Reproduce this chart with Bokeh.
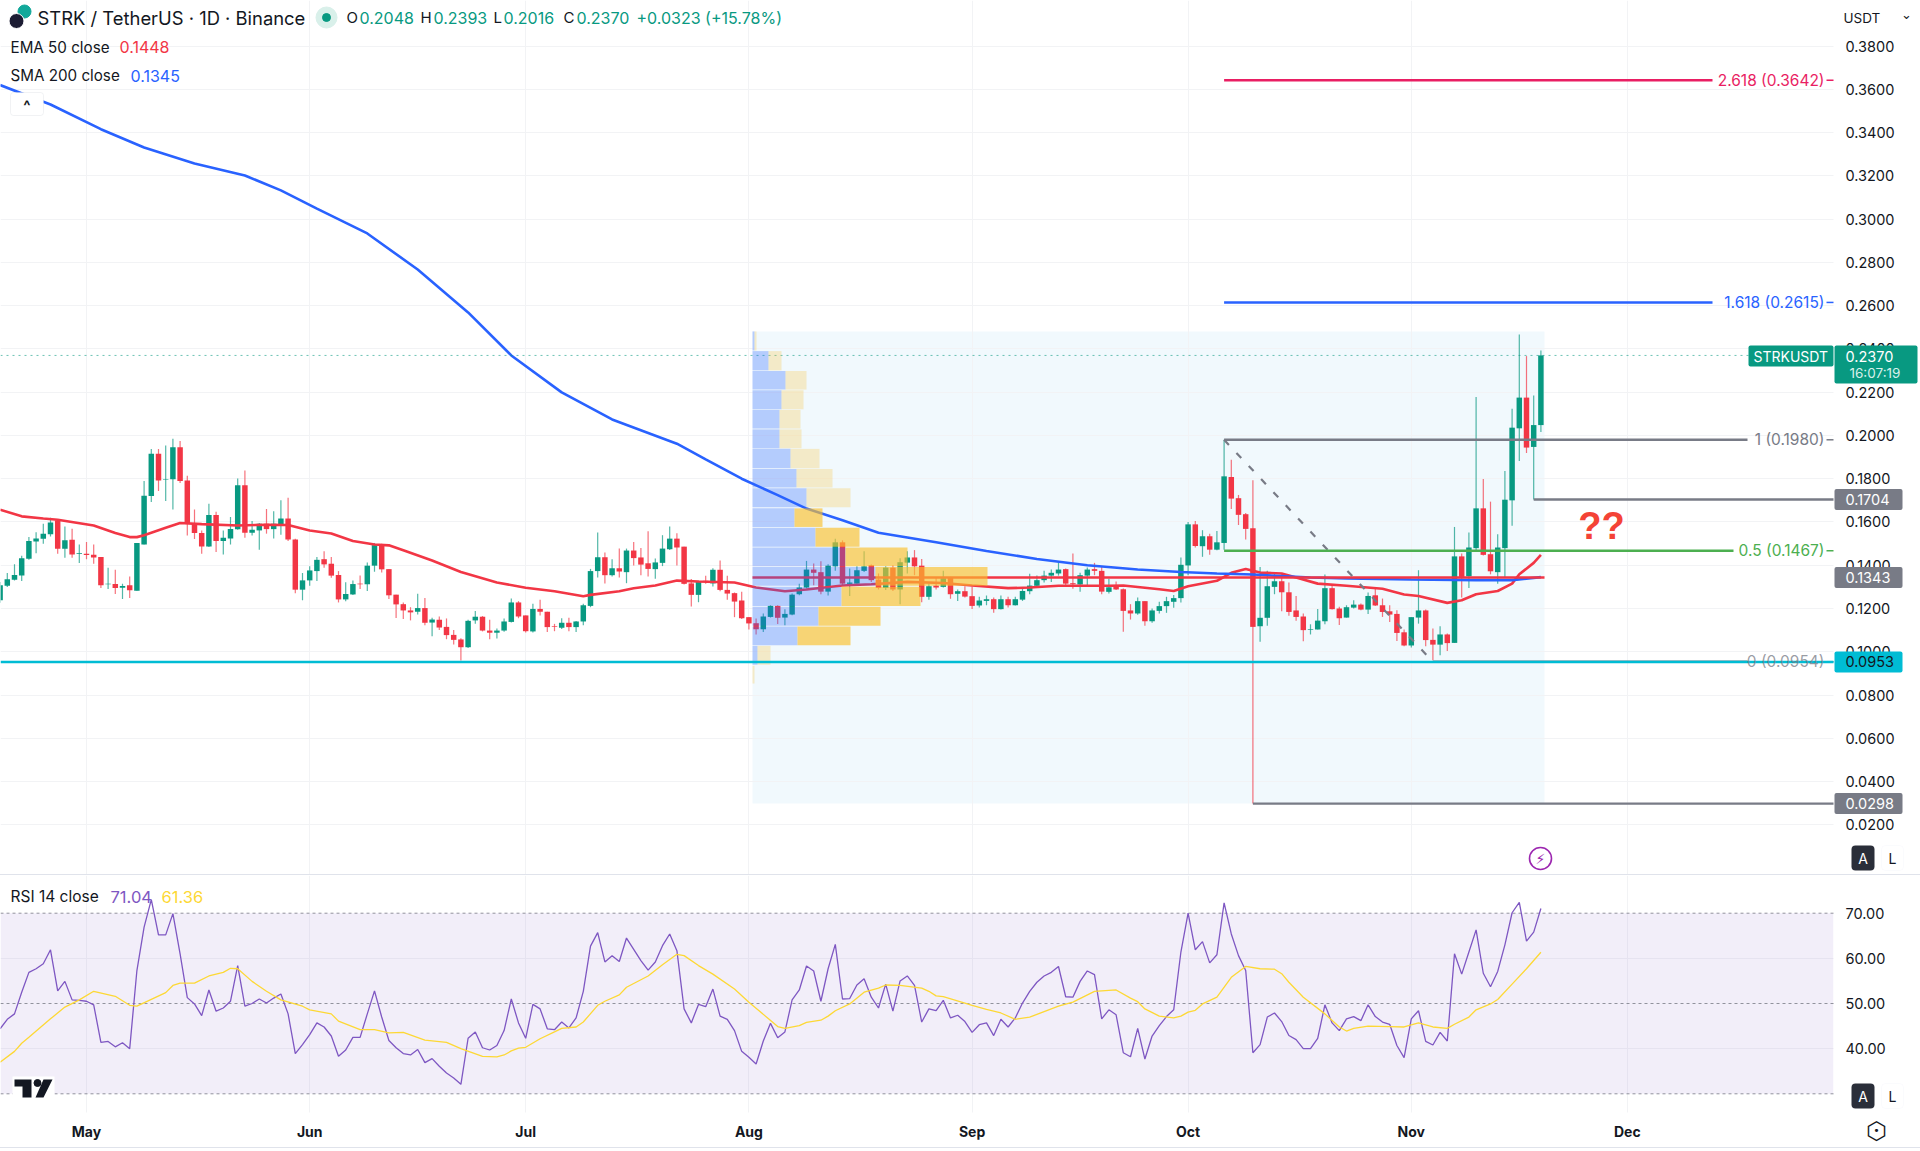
from bokeh.plotting import figure
from bokeh.layouts import column
from bokeh.models import Range1d, FixedTicker, Label, BoxAnnotation, NumeralTickFormatter
from bokeh.embed import file_html
from bokeh.resources import INLINE

# ---- data (x = days since 19 Apr) ----
opens = [.1238,.1305,.1333,.1353,.1430,.1510,.1522,.1543,.1607,.1476,.1518,.1452,
 .1453,.1448,.1438,.1312,.1313,.1296,.1307,.1282,.1496,.1720,.1915,.1795,.1798,.1946,.1792,.1595,.1549,.1487,.1632,.1512,.1524,.1566,.1770,.1550,.1561,.1592,.1567,.1589,.1616,.1519,.1287,
 .1330,.1373,.1428,.1407,.1355,.1242,.1265,.1315,.1312,.1398,.1493,.1382,.1264,.1220,.1191,.1185,.1202,.1135,.1148,.1115,.1078,.1057,.1021,.1145,.1162,.1098,.1088,.1098,.1138,.1228,
 .1168,.1094,.1198,.1185,.1118,.1111,.1134,.1114,.1140,.1212,.1373,.1437,.1354,.1386,.1368,.1468,.1436,.1409,.1382,.1411,.1474,.1523,.1486,.1316,.1263,.1328,.1316,.1379,.1286,.1271,.1237,
 .1160,.1132,.1104,.1161,.1212,.1158,.1172,.1266,.1297,.1380,.1368,.1278,.1395,.1506,.1314,.1315,.1374,.1400,.1334,.1295,.1389,.1288,.1412,.1436,.1398,.1254,.1306,.1300,.1343,.1268,.1280,
 .1257,.1214,.1235,.1243,.1197,.1243,.1215,.1241,.1280,.1305,.1331,.1352,.1362,.1382,.1317,.1311,.1352,.1382,.1374,.1277,.1306,.1289,.1191,.1177,.1234,.1141,.1189,.1211,.1231,.1248,
 .1399,.1589,.1488,.1534,.1472,.1503,.1808,.1710,.1636,.1571,.1118,.1157,.1300,.1326,.1275,.1191,.1163,.1101,.1103,.1141,.1294,.1200,.1158,.1204,.1218,.1195,.1261,.1215,.1187,.1175,.1090,
 .1029,.1158,.1191,.1055,.1033,.1080,.1041,.1441,.1349,.1479,.1663,.1451,.1368,.1479,.1700,.2033,.2175,.1947,.2048]
closes = [.1307,.1335,.1355,.1432,.1512,.1524,.1546,.1598,.1476,.1515,.1450,.1455,
 .1447,.1436,.1307,.1315,.1295,.1304,.1284,.1503,.1721,.1915,.1792,.1798,.1946,.1789,.1595,.1549,.1487,.1632,.1512,.1527,.1567,.1770,.1550,.1564,.1592,.1567,.1592,.1616,.1519,.1287,.1330,
 .1376,.1425,.1404,.1352,.1242,.1267,.1313,.1312,.1398,.1493,.1381,.1261,.1219,.1191,.1182,.1202,.1134,.1149,.1112,.1077,.1055,.1021,.1143,.1162,.1098,.1088,.1098,.1140,.1228,.1163,
 .1095,.1198,.1185,.1114,.1115,.1134,.1114,.1140,.1215,.1373,.1437,.1354,.1386,.1371,.1468,.1433,.1403,.1383,.1413,.1477,.1523,.1482,.1314,.1263,.1325,.1325,.1379,.1286,.1269,.1232,.1155,
 .1131,.1104,.1163,.1212,.1157,.1175,.1264,.1297,.1380,.1365,.1278,.1398,.1506,.1315,.1320,.1377,.1395,.1331,.1295,.1389,.1288,.1414,.1436,.1395,.1254,.1303,.1297,.1340,.1266,.1280,.1255,
 .1212,.1237,.1243,.1197,.1243,.1215,.1243,.1281,.1306,.1331,.1352,.1365,.1380,.1315,.1312,.1354,.1380,.1374,.1278,.1298,.1288,.1189,.1177,.1234,.1141,.1191,.1211,.1234,.1248,.1402,
 .1589,.1489,.1534,.1472,.1506,.1811,.1708,.1633,.1568,.1115,.1157,.1303,.1326,.1275,.1184,.1161,.1100,.1104,.1144,.1294,.1197,.1155,.1206,.1218,.1195,.1258,.1214,.1184,.1172,.1087,.1029,
 .1160,.1191,.1054,.1033,.1080,.1040,.1441,.1346,.1482,.1663,.1448,.1372,.1482,.1703,.2036,.2175,.1944,.2048,.2370]
highs = [.1322,.1364,.1404,.1444,.1530,.1553,.1592,.1619,.1610,.1579,.1569,.1496,
 .1507,.1496,.1438,.1388,.1379,.1315,.1348,.1503,.1789,.1937,.1937,.1954,.1985,.1974,.1814,.1658,.1561,.1684,.1647,.1561,.1623,.1801,.1838,.1604,.1595,.1660,.1650,.1700,.1712,.1522,.1364,
 .1395,.1438,.1465,.1438,.1373,.1321,.1330,.1352,.1413,.1503,.1499,.1382,.1264,.1228,.1206,.1268,.1249,.1157,.1163,.1154,.1101,.1063,.1148,.1188,.1165,.1148,.1108,.1154,.1246,.1234,
 .1168,.1222,.1240,.1185,.1129,.1155,.1157,.1142,.1222,.1383,.1551,.1459,.1428,.1477,.1477,.1508,.1480,.1557,.1431,.1539,.1579,.1548,.1486,.1336,.1329,.1351,.1386,.1422,.1351,.1274,.1277,
 .1160,.1154,.1177,.1215,.1215,.1197,.1269,.1315,.1420,.1408,.1418,.1404,.1523,.1515,.1385,.1395,.1465,.1403,.1362,.1395,.1400,.1432,.1465,.1470,.1429,.1315,.1346,.1374,.1346,.1288,.1303,
 .1300,.1254,.1260,.1251,.1260,.1254,.1254,.1297,.1361,.1352,.1374,.1380,.1414,.1385,.1454,.1365,.1389,.1411,.1395,.1338,.1325,.1292,.1220,.1251,.1234,.1200,.1231,.1254,.1262,.1436,
 .1600,.1605,.1562,.1546,.1558,.1980,.1888,.1725,.1642,.1793,.1392,.1374,.1366,.1361,.1320,.1258,.1177,.1127,.1198,.1357,.1311,.1208,.1215,.1238,.1223,.1274,.1295,.1246,.1215,.1192,.1103,
 .1160,.1377,.1195,.1107,.1118,.1084,.1577,.1454,.1551,.2178,.1799,.1694,.1543,.1836,.2124,.2467,.2367,.2185,.2393]
lows = [.1227,.1299,.1330,.1327,.1425,.1456,.1499,.1533,.1453,.1435,.1435,.1410,
 .1428,.1407,.1295,.1290,.1267,.1244,.1248,.1282,.1496,.1692,.1743,.1697,.1658,.1780,.1538,.1521,.1453,.1484,.1461,.1450,.1496,.1564,.1527,.1538,.1472,.1546,.1524,.1541,.1512,.1271,.1238,
 .1305,.1327,.1388,.1342,.1228,.1233,.1262,.1290,.1281,.1370,.1367,.1244,.1156,.1152,.1145,.1172,.1123,.1072,.1101,.1058,.1034,.0960,.1017,.1129,.1094,.1058,.1061,.1092,.1135,.1155,
 .1089,.1089,.1168,.1091,.1095,.1105,.1095,.1091,.1123,.1206,.1343,.1316,.1348,.1343,.1317,.1399,.1354,.1348,.1337,.1396,.1471,.1399,.1311,.1209,.1229,.1314,.1302,.1280,.1240,.1160,.1152,
 .1103,.1080,.1091,.1158,.1128,.1123,.1169,.1261,.1292,.1308,.1266,.1260,.1374,.1308,.1258,.1315,.1369,.1323,.1288,.1285,.1281,.1220,.1362,.1354,.1229,.1241,.1288,.1297,.1245,.1235,.1251,
 .1198,.1205,.1215,.1180,.1195,.1205,.1214,.1235,.1266,.1300,.1320,.1323,.1352,.1308,.1291,.1277,.1300,.1354,.1266,.1269,.1285,.1092,.1149,.1171,.1120,.1134,.1177,.1180,.1203,.1228,
 .1354,.1482,.1439,.1448,.1469,.1472,.1660,.1586,.1519,.0298,.1046,.1120,.1266,.1187,.1166,.1143,.1049,.1080,.1103,.1127,.1195,.1124,.1158,.1200,.1192,.1175,.1211,.1161,.1138,.1050,.1026,
 .1020,.1130,.1026,.0961,.0984,.1004,.1041,.1251,.1295,.1469,.1445,.1358,.1315,.1346,.1583,.1882,.1919,.1704,.2016]
assert len(opens) == len(closes) == len(highs) == len(lows) == 215

ema_days = [0,3,6,8,13,16,18,19,20,23,25,28,33,37,40,43,46,49,52,54,56,60,64,69,73,77,81,82,86,88,91,94,97,102,105,109,112,117,121,126,131,135,140,143,147,154,156,161,163,165,169,171,173,175,178,180,183,187,192,195,197,201,203,205,208,210,211,213,214]
ema_vals = [.1657,.1626,.1616,.1610,.1584,.1549,.1530,.1530,.1539,.1573,.1595,.1590,.1584,.1587,.1586,.1561,.1547,.1512,.1496,.1492,.1469,.1422,.1369,.1320,.1296,.1280,.1257,.1263,.1280,.1294,.1306,.1329,.1325,.1320,.1297,.1280,.1288,.1306,.1312,.1323,.1318,.1306,.1294,.1297,.1305,.1305,.1306,.1289,.1281,.1303,.1328,.1365,.1383,.1366,.1362,.1343,.1315,.1305,.1291,.1265,.1258,.1226,.1238,.1266,.1281,.1315,.1358,.1411,.1448]
sma_days = [0,7,14,20,27,34,39,44,51,58,65,71,78,85,94,98,103,108,112,117,122,126,130,137,144,151,158,164,169,174,182,187,196,205,210,214]
sma_vals = [.3620,.3530,.3416,.3331,.3257,.3202,.3133,.3049,.2934,.2767,.2569,.2370,.2199,.2074,.1962,.1889,.1800,.1724,.1662,.1608,.1550,.1528,.1506,.1466,.1429,.1400,.1380,.1369,.1362,.1357,.1343,.1339,.1334,.1331,.1331,.1345]

rsi_vals = [44.4,46.5,47.7,52.5,56.9,57.7,58.8,61.9,52.8,54.9,50.8,50.7,50.5,49.7,41.4,41.6,40.4,41.3,40.0,57.3,66.9,73.0,65.2,65.2,69.9,61.0,51.3,49.9,47.3,53.0,48.3,49.0,50.5,58.4,49.4,50.0,51.0,50.1,51.2,52.1,47.7,38.9,40.9,43.1,45.7,44.8,42.8,38.3,39.7,42.5,42.5,47.7,52.8,47.0,41.8,40.2,38.9,38.6,39.8,36.9,37.8,36.1,34.6,33.5,32.1,42.3,43.7,40.2,39.7,40.7,44.0,51.0,45.7,
 42.3,49.8,48.8,44.4,44.2,45.9,44.6,46.8,52.7,62.7,65.7,59.2,60.6,59.3,64.5,62.0,59.5,57.4,59.2,62.8,65.4,61.7,48.8,45.7,49.8,49.3,53.2,47.2,46.5,44.0,39.4,38.1,36.6,41.7,45.6,42.4,43.7,50.8,53.0,58.3,57.2,50.5,57.7,63.1,51.0,51.1,54.1,55.5,51.4,49.0,54.3,48.3,55.0,56.1,54.0,45.9,48.8,48.4,50.7,46.8,47.4,46.0,43.6,45.3,45.7,42.9,46.5,44.8,46.8,50.1,52.7,54.7,
 56.1,56.9,58.2,51.5,51.4,54.9,57.2,56.4,46.6,48.6,47.5,39.1,38.2,44.5,37.7,42.8,45.1,47.1,48.6,61.4,70.0,61.9,63.7,59.0,60.8,72.3,65.4,60.6,57.3,39.1,40.9,47.0,47.9,46.0,42.9,42.0,40.0,40.0,42.3,49.7,45.7,44.0,46.6,47.1,46.2,49.7,47.1,45.9,45.4,40.7,38.0,46.6,48.4,41.6,40.8,43.6,41.7,61.0,56.5,61.4,66.3,56.7,53.7,57.1,63.0,70.1,72.4,63.8,65.8,71.04]
assert len(rsi_vals) == 215
rsi_ma_days = [0,2,3,4,7,9,11,13,16,18,19,23,24,25,27,29,31,32,33,35,37,39,42,43,46,47,50,52,54,56,59,62,64,67,69,70,71,72,73,75,77,78,80,81,83,84,86,87,90,92,94,95,97,99,102,104,108,109,111,112,114,115,116,118,120,122,123,125,128,129,130,131,134,135,137,139,141,143,144,147,149,152,155,157,158,159,161,163,164,165,166,167,169,171,173,175,177,178,179,181,184,186,187,188,190,193,195,197,199,201,202,204,205,207,208,210,212,214]
rsi_ma_vals = [37.0,39.4,41.2,42.5,46.6,49.2,50.8,52.7,51.6,49.6,49.4,52.4,54.0,54.5,54.5,56.1,56.9,57.8,57.7,54.9,52.7,50.8,49.4,48.6,47.7,46.1,44.2,44.2,43.5,43.6,41.9,41.4,40.0,38.3,38.2,38.6,39.5,40.1,40.3,42.2,43.7,44.5,44.8,45.9,49.6,50.5,51.9,53.6,56.1,58.6,60.9,60.6,58.4,56.5,53.2,50.3,44.9,44.5,45.1,45.8,46.3,47.2,48.4,49.9,52.5,53.4,54.1,54.0,53.4,52.7,51.7,51.5,50.1,49.6,48.7,47.9,46.5,47.0,47.6,49.4,50.3,52.7,53.0,51.2,50.4,48.8,47.2,46.8,47.2,48.1,48.5,49.9,51.4,55.8,58.2,57.7,57.6,56.6,54.7,51.4,47.7,44.8,43.9,44.5,45.0,44.9,44.8,45.7,44.8,44.5,45.4,47.0,48.6,49.9,50.9,54.3,57.7,61.36]
assert len(rsi_ma_days) == len(rsi_ma_vals)
assert len(ema_days) == len(ema_vals) and len(sma_days) == len(sma_vals)

profile_top = [.2481,.2390,.2298,.2209,.2118,.2028,.1938,.1845,.1756,.1663,.1573,.1482,.1392,.1300,.1208,.1117,.1027,.0935]
profile_bot = [.2393,.2301,.2212,.2121,.2032,.1941,.1848,.1759,.1668,.1577,.1485,.1395,.1305,.1212,.1120,.1030,.0940,.0853]
profile_up = [2,16,33,29,27,27,38,44,54,42,63,93,123,89,66,45,5,0]
profile_down = [2,13,21,22,21,22,29,36,44,28,44,62,112,79,62,53,13,2]
value_area = [False]*9 + [True]*7 + [False]*2

price_ticks = [round(.02*i, 2) for i in range(1, 20)]
month_days = [12, 43, 73, 104, 135, 165, 196, 226]
month_labels = ["May", "Jun", "Jul", "Aug", "Sep", "Oct", "Nov", "Dec"]
rsi_ticks = [40, 50, 60, 70]
rsi_levels = [70, 50, 30]

fib_ratio = ["2.618", "1.618", "1", "0.5", "0"]
fib_price = [.3642, .2615, .1980, .1467, .0954]
fib_color = ["#e91e63", "#2962ff", "#787b86", "#4caf50", "#787b86"]
fib_end_px = [1712, 1712, 1747, 1733, 1747]
fib_start_day = [170, 170, 170, 170, 199]

last_price = .2370
poc = .1343
support = .0953
swing_high_ray = .1704
swing_low_ray = .0298

# ---- layout helpers: reference page pixels to chart units ----
GREEN, RED, INK = "#089981", "#f23645", "#131722"
FONT = "Inter"
PANE_RIGHT = 1833
def dx(X): return 12 + (X - 86) / 7.2
def py(Y): return .22 - (Y - 391.7) / 2163
def ry(Y): return 70 - (Y - 912.7) / 4.515
def price_y(v): return 391.7 + (.22 - v) * 2163
x_range = Range1d(dx(0), dx(1920))
x0, x1 = dx(0), dx(PANE_RIGHT)

def make(fr_h, yr, **kw):
    f = figure(frame_width=1920, frame_height=fr_h, width=1920, height=fr_h, x_range=x_range, y_range=yr,
               y_axis_location="right", output_backend="svg", toolbar_location=None,
               min_border=0, outline_line_color=None, background_fill_color="white", **kw)
    f.yaxis.fixed_location = x1
    f.yaxis.axis_line_color = None
    f.yaxis.major_tick_line_color = None
    f.yaxis.minor_tick_line_color = None
    f.yaxis.major_label_standoff = 6
    f.yaxis.major_label_text_font = FONT
    f.yaxis.major_label_text_font_size = "14.5px"
    f.yaxis.major_label_text_color = INK
    f.xgrid.ticker = FixedTicker(ticks=month_days)
    f.xgrid.grid_line_color = "#f2f3f5"
    f.ygrid.grid_line_color = "#f2f3f5"
    return f

def txt(f, X, y, s, color=INK, size=15, align="left", font=FONT, style="normal", level="overlay", alpha=1.0):
    f.add_layout(Label(x=dx(X), y=y, text=s, text_color=color, text_font_size=f"{size}px", text_align=align,
                       text_baseline="middle", text_font=font, text_font_style=style, level=level, text_alpha=alpha))

def plate(f, conv, X0, X1, Y0, Y1, fill, line=None, radius=2):
    f.add_layout(BoxAnnotation(left=dx(X0), right=dx(X1), top=conv(Y0), bottom=conv(Y1), fill_color=fill, fill_alpha=1,
                               line_color=line, border_radius=radius, level="annotation"))

# ---- price pane ----
p = make(875, Range1d(py(875), py(0)), x_axis_location=None)
p.yaxis.ticker = FixedTicker(ticks=price_ticks)
p.yaxis.formatter = NumeralTickFormatter(format="0.0000")
p.ygrid.ticker = FixedTicker(ticks=price_ticks)
p.quad(left=[x1], right=[dx(1920)], top=[py(0)], bottom=[py(875)], fill_color="white", line_color=None)  # price-scale strip

days = list(range(len(opens)))
p.quad(left=[dx(752)], right=[dx(1544)], top=[profile_top[0]], bottom=[swing_low_ray],
       fill_color="#12a0dc", fill_alpha=.06, line_color=None, level="underlay")

up = [c >= o for o, c in zip(opens, closes)]
colors = [GREEN if u else RED for u in up]
p.segment(days, highs, days, lows, color=colors, line_width=1.2, line_alpha=.7)
p.vbar(x=days, width=.76, top=[max(o, c) for o, c in zip(opens, closes)],
       bottom=[min(o, c) for o, c in zip(opens, closes)], fill_color=colors, line_color=None)

p.line(ema_days, ema_vals, line_color=RED, line_width=2.6)
p.line(sma_days, sma_vals, line_color="#2962ff", line_width=2.6)
p.segment([dx(752)], [poc], [dx(1544)], [poc], line_color=RED, line_width=2.6)

# fib retracement
p.line([fib_start_day[2], fib_start_day[4]], [fib_price[2], fib_price[4]], line_color="#787b86", line_width=2.2, line_dash=[7, 11])
for r_, v, c, e, s in zip(fib_ratio, fib_price, fib_color, fib_end_px, fib_start_day):
    p.segment([s], [v], [dx(e)], [v], line_color=c, line_width=2.4)
    p.segment([dx(1826)], [v], [x1], [v], line_color=c, line_width=1.5)
    txt(p, 1824, v, f"{r_} ({v:.4f})", color=c, size=15.5, align="right", level="annotation",
        alpha=.75 if r_ == "0" else 1)

# rays to the price scale
p.segment([213], [swing_high_ray], [x1], [swing_high_ray], line_color="#787b86", line_width=2.4)
p.segment([174], [swing_low_ray], [x1], [swing_low_ray], line_color="#787b86", line_width=2.4)
p.segment([x0], [last_price], [x1], [last_price], line_color=GREEN, line_dash="dotted", line_alpha=.6, line_width=1)

# volume profile (drawn over the candles)
base = dx(752)
ups_r = [base + u / 7.2 for u in profile_up]
tot_r = [base + (u + d) / 7.2 for u, d in zip(profile_up, profile_down)]
p.quad(left=[base]*18, right=ups_r, top=profile_top, bottom=profile_bot, fill_color="#2962ff", fill_alpha=.3, line_color=None)
p.quad(left=ups_r, right=tot_r, top=profile_top, bottom=profile_bot, fill_color="#fbc02d",
       fill_alpha=[.65 if v else .25 for v in value_area], line_color=None)

p.segment([x0], [support], [x1], [support], line_color="#00bcd4", line_width=2.6)

# price-scale tags
for v, fill, col, s in [(swing_high_ray, "#787b86", "white", "0.1704"), (poc, "#787b86", "white", "0.1343"),
                        (swing_low_ray, "#787b86", "white", "0.0298"), (support, "#00bcd4", INK, "0.0953")]:
    Yc = price_y(v)
    plate(p, py, 1834, 1902, Yc - 10.5, Yc + 10.5, fill)
    txt(p, 1845, v, s, color=col, size=14.5)
plate(p, py, 1834, 1917, 345, 383, GREEN)
txt(p, 1845, py(356), f"{last_price:.4f}", color="white", size=14.5)
txt(p, 1849, py(372), "16:07:19", color="#d8f0ea", size=13.5)
plate(p, py, 1748, 1833, 345, 366, GREEN)
txt(p, 1753, py(355.5), "STRKUSDT", color="white", size=14)

# header
p.scatter([dx(24)], [py(11)], size=13, color="#12a89a")
p.scatter([dx(16)], [py(20.5)], size=15, fill_color="#1c1c33", line_color="white", line_width=1)
txt(p, 37, py(17), "STRK / TetherUS · 1D · Binance", size=18.4)
p.scatter([dx(326)], [py(17)], size=21, color="#d9f0ea")
p.scatter([dx(326)], [py(17)], size=8, color=GREEN)
for X, s, c, z in [(346, "O", INK, 15), (359, "0.2048", GREEN, 16), (420, "H", INK, 15), (433, "0.2393", GREEN, 16), (493, "L", INK, 15),
                   (503, "0.2016", GREEN, 16), (563, "C", INK, 15), (576, "0.2370", GREEN, 16), (636, "+0.0323 (+15.78%)", GREEN, 16)]:
    txt(p, X, py(17), s, color=c, size=z)
txt(p, 10, py(46.5), "EMA 50 close", size=15.2)
txt(p, 119, py(46.5), "0.1448", color=RED, size=16)
txt(p, 10, py(75), "SMA 200 close", size=15.2)
txt(p, 130, py(75), "0.1345", color="#2962ff", size=16)
plate(p, py, 10, 43, 92, 115, "white", line="#d1d4dc", radius=3)
txt(p, 26.5, py(105), "^", size=15, align="center", style="bold")
txt(p, 1843, py(17), "USDT", size=13.5)
txt(p, 1906, py(14), "⌄", size=13, align="center", font="DejaVu Sans")

txt(p, 1601, py(525), "??", color="#f44336", size=38, align="center", font="Liberation Sans", style="bold")
p.scatter([dx(1540)], [py(858)], size=22, fill_color=None, line_color="#9c27b0", line_width=1.6)
txt(p, 1540, py(858), "⚡", color="#9c27b0", size=14, align="center", font="DejaVu Sans")

def al_buttons(f, conv, Y0, Y1):
    plate(f, conv, 1851, 1874, Y0, Y1, "#2a2e39", radius=4)
    txt(f, 1862.5, conv((Y0 + Y1) / 2), "A", color="white", size=14, align="center")
    plate(f, conv, 1881, 1903, Y0, Y1, "white", line="#f0f3fa", radius=4)
    txt(f, 1892, conv((Y0 + Y1) / 2), "L", size=14, align="center")
al_buttons(p, py, 845, 870)

# ---- RSI pane (the frame runs on under the time scale) ----
r = make(272, Range1d(ry(1147), ry(875)), styles={"box-shadow": "0 1px 0 #e0e3eb, 0 -1px 0 #e0e3eb"})
r.yaxis.ticker = FixedTicker(ticks=rsi_ticks)
r.yaxis.formatter = NumeralTickFormatter(format="0.00")
r.ygrid.ticker = FixedTicker(ticks=[40, 60])
r.quad(left=[x1], right=[dx(1920)], top=[ry(875)], bottom=[ry(1147)], fill_color="white", line_color=None)
r.quad(left=[x0], right=[x1], top=[ry(1112)], bottom=[ry(1147)], fill_color="white", line_color=None)
r.xaxis.fixed_location = ry(1112)
r.xaxis.ticker = FixedTicker(ticks=month_days)
r.xaxis.major_label_overrides = dict(zip(month_days, month_labels))
r.xaxis.axis_line_color = None
r.xaxis.major_tick_line_color = None
r.xaxis.minor_tick_line_color = None
r.xaxis.major_label_standoff = 4
r.xaxis.major_label_text_font = FONT
r.xaxis.major_label_text_font_size = "14px"
r.xaxis.major_label_text_font_style = "bold"
r.xaxis.major_label_text_color = INK

r.add_layout(BoxAnnotation(left=x0, right=x1, bottom=30, top=70, fill_color="#7e57c2", fill_alpha=.1, line_color=None, level="underlay"))
r.segment([x0]*3, rsi_levels, [x1]*3, rsi_levels, line_color="#787b86", line_dash="3 3", line_alpha=.8, line_width=1)
r.line(days, rsi_vals, line_color="#7e57c2", line_width=1.3)
r.line(rsi_ma_days, rsi_ma_vals, line_color="#fdd835", line_width=1.3)

txt(r, 10, ry(896), "RSI 14 close", size=15.5)
txt(r, 110, ry(896), "71.04", color="#7e57c2", size=16.5)
txt(r, 161, ry(896), "61.36", color="#fdd835", size=16.5)
al_buttons(r, ry, 1083, 1108)
txt(r, 1876, ry(1130), "⬡", size=24, align="center", font="DejaVu Sans")
txt(r, 1876, ry(1130), "•", size=11, align="center", font="DejaVu Sans")

# TradingView mark
r.quad(left=[dx(12)], right=[dx(54)], top=[ry(1076)], bottom=[ry(1099)], fill_color="white", line_color=None)
r.patch([dx(v) for v in (14, 31, 31, 22, 22, 14)], [ry(v) for v in (1079, 1079, 1097, 1097, 1086, 1086)], fill_color=INK, line_color=None)
r.patch([dx(v) for v in (43, 52, 43, 35)], [ry(v) for v in (1079, 1079, 1097, 1097)], fill_color=INK, line_color=None)
r.scatter([dx(37)], [ry(1082.5)], size=7, color=INK)

layout = column(p, r, spacing=0)
open("out.html", "w").write(file_html(layout, INLINE))
